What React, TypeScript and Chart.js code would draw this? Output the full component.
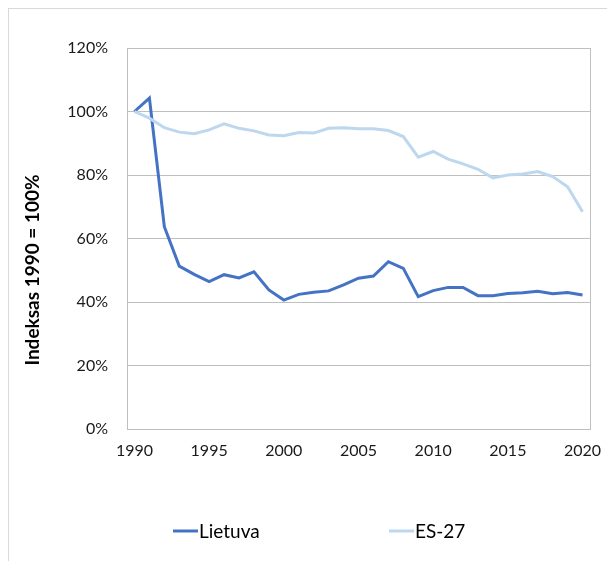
import React, { useEffect, useRef } from "react";
import { Chart, registerables } from "chart.js";

Chart.register(...registerables);

const years = [
  "1990", "1991", "1992", "1993", "1994", "1995", "1996", "1997", "1998", "1999",
  "2000", "2001", "2002", "2003", "2004", "2005", "2006", "2007", "2008", "2009",
  "2010", "2011", "2012", "2013", "2014", "2015", "2016", "2017", "2018", "2019", "2020",
];

const lietuva = [
  100, 104.2, 63.7, 51.3, 48.7, 46.4, 48.6, 47.6, 49.5, 43.8,
  40.6, 42.4, 43.1, 43.5, 45.4, 47.5, 48.2, 52.7, 50.6, 41.7,
  43.6, 44.6, 44.6, 42.0, 42.0, 42.7, 42.9, 43.4, 42.6, 43.0, 42.2,
];

const es27 = [
  100, 97.9, 94.9, 93.5, 93.0, 94.2, 96.1, 94.7, 93.9, 92.6,
  92.4, 93.4, 93.2, 94.7, 94.9, 94.6, 94.6, 94.0, 92.1, 85.6,
  87.4, 85.0, 83.5, 81.8, 79.1, 80.0, 80.3, 81.1, 79.5, 76.3, 68.4,
];

const seriesNames = ["Lietuva", "ES-27"];
const yTickValues = [0, 20, 40, 60, 80, 100, 120];
const xTickLabels = ["1990", "1995", "2000", "2005", "2010", "2015", "2020"];
const yTitle = "Indeksas 1990 = 100%";

const FONT = "Lato, 'Open Sans', sans-serif";

const framePlugin = {
  id: "frame",
  beforeDatasetsDraw(chart: any) {
    const { ctx, chartArea } = chart;
    ctx.save();
    ctx.strokeStyle = "#bfbfbf";
    ctx.lineWidth = 1;
    ctx.strokeRect(
      Math.round(chartArea.left) + 0.5,
      Math.round(chartArea.top) + 0.5,
      Math.round(chartArea.right - chartArea.left),
      Math.round(chartArea.bottom - chartArea.top)
    );
    ctx.restore();
  },
};

const yTitlePlugin = {
  id: "yTitle",
  afterDraw(chart: any) {
    const { ctx } = chart;
    ctx.save();
    ctx.translate(24, 261);
    ctx.rotate(-Math.PI / 2);
    ctx.font = `bold 19px ${FONT}`;
    ctx.fillStyle = "#000";
    ctx.textAlign = "center";
    ctx.textBaseline = "middle";
    ctx.fillText(yTitle, 0, 0);
    ctx.restore();
  },
};

const legendPlugin = {
  id: "customLegend",
  afterDraw(chart: any) {
    const { ctx } = chart;
    const starts = [164, 380];
    const y = 522;
    ctx.save();
    chart.data.datasets.forEach((ds: any, i: number) => {
      const x0 = starts[i];
      ctx.strokeStyle = ds.borderColor;
      ctx.lineWidth = 3;
      ctx.beginPath();
      ctx.moveTo(x0, y);
      ctx.lineTo(x0 + 25, y);
      ctx.stroke();
      ctx.font = `19px ${FONT}`;
      ctx.fillStyle = "#000";
      ctx.textAlign = "left";
      ctx.textBaseline = "middle";
      ctx.fillText(ds.label, x0 + 26, y + 1);
    });
    ctx.restore();
  },
};

export default function App() {
  const canvasRef = useRef<HTMLCanvasElement | null>(null);

  useEffect(() => {
    if (!canvasRef.current) return;
    const chart = new Chart(canvasRef.current, {
      type: "line",
      data: {
        labels: years,
        datasets: [
          {
            label: seriesNames[0],
            data: lietuva,
            borderColor: "#4472C4",
            backgroundColor: "#4472C4",
            borderWidth: 3,
            pointRadius: 0,
            tension: 0,
            order: 1,
          },
          {
            label: seriesNames[1],
            data: es27,
            borderColor: "#BDD7EE",
            backgroundColor: "#BDD7EE",
            borderWidth: 3,
            pointRadius: 0,
            tension: 0,
            order: 0,
          },
        ],
      },
      options: {
        responsive: false,
        animation: false,
        devicePixelRatio: 1,
        layout: { padding: { top: 39, right: 17, left: 0, bottom: 0 } },
        plugins: {
          legend: { display: false },
          tooltip: { enabled: false },
        },
        scales: {
          x: {
            type: "category",
            offset: true,
            grid: { display: false, drawTicks: false },
            border: { display: false },
            ticks: {
              autoSkip: false,
              maxRotation: 0,
              padding: 12,
              color: "#1a1a1a",
              font: { family: FONT, size: 16 },
              callback: (_v: any, i: number) =>
                xTickLabels.includes(years[i]) ? years[i] : "",
            },
            afterFit: (scale: any) => {
              scale.height = 132;
              scale.paddingLeft = 0;
              scale.paddingRight = 0;
            },
          },
          y: {
            min: 0,
            max: 120,
            afterBuildTicks: (scale: any) => {
              scale.ticks = yTickValues.map((v) => ({ value: v }));
            },
            grid: { color: "#bfbfbf", drawTicks: false, lineWidth: 1 },
            border: { display: false },
            ticks: {
              padding: 19,
              color: "#1a1a1a",
              font: { family: FONT, size: 16 },
              callback: (v: any) => `${v}%`,
            },
            afterFit: (scale: any) => {
              scale.width = 118;
            },
          },
        },
      },
      plugins: [framePlugin, yTitlePlugin, legendPlugin],
    });
    return () => chart.destroy();
  }, []);

  return (
    <div
      style={{
        width: 598,
        height: 552,
        borderLeft: "1px solid #d9d9d9",
        borderTop: "1px solid #d9d9d9",
      }}
    >
      <canvas
        ref={canvasRef}
        width={598}
        height={552}
        style={{ display: "block", width: 598, height: 552 }}
      />
    </div>
  );
}
